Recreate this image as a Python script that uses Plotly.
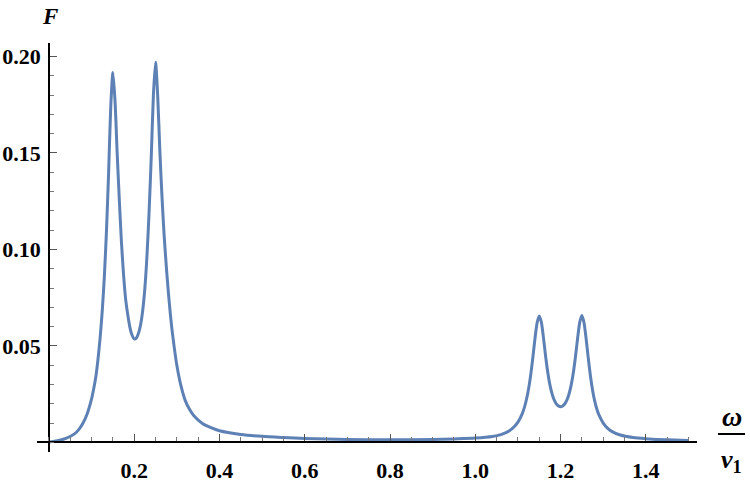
import plotly.graph_objects as go

omega = [0.0, 0.02, 0.04, 0.06, 0.07, 0.08, 0.09, 0.10, 0.105, 0.11, 0.115, 0.12, 0.125, 0.13,
         0.135, 0.14, 0.145, 0.15, 0.155, 0.16, 0.165, 0.17, 0.175, 0.18, 0.185, 0.19, 0.195,
         0.20, 0.205, 0.21, 0.215, 0.22, 0.225, 0.23, 0.235, 0.24, 0.245, 0.25, 0.255, 0.26,
         0.265, 0.27, 0.275, 0.28, 0.285, 0.29, 0.30, 0.31, 0.32, 0.33, 0.34, 0.36, 0.38, 0.40,
         0.45, 0.50, 0.55, 0.60, 0.70, 0.80, 0.90, 0.95, 1.00, 1.04, 1.06, 1.08, 1.09, 1.10,
         1.11, 1.115, 1.12, 1.125, 1.13, 1.135, 1.14, 1.145, 1.15, 1.155, 1.16, 1.165, 1.17,
         1.175, 1.18, 1.185, 1.19, 1.195, 1.20, 1.205, 1.21, 1.215, 1.22, 1.225, 1.23, 1.235,
         1.24, 1.245, 1.25, 1.255, 1.26, 1.265, 1.27, 1.275, 1.28, 1.285, 1.29, 1.30, 1.31,
         1.32, 1.34, 1.37, 1.40, 1.45, 1.50]

F = [0.0002, 0.0009, 0.0021, 0.0044, 0.0066, 0.0100, 0.0150, 0.0225, 0.0278, 0.0340, 0.0430,
     0.0540, 0.0680, 0.0860, 0.1100, 0.1400, 0.1740, 0.1917, 0.1770, 0.1500, 0.1260, 0.1040,
     0.0870, 0.0740, 0.0660, 0.0595, 0.0555, 0.0536, 0.0540, 0.0565, 0.0610, 0.0685, 0.0800,
     0.0970, 0.1200, 0.1480, 0.1800, 0.1970, 0.1800, 0.1520, 0.1280, 0.1080, 0.0920, 0.0780,
     0.0660, 0.0560, 0.0400, 0.0290, 0.0215, 0.0170, 0.0138, 0.0098, 0.0076, 0.0060, 0.0041,
     0.0031, 0.0025, 0.0020, 0.0015, 0.0013, 0.0015, 0.0018, 0.0022, 0.0030, 0.0040, 0.0060,
     0.0078, 0.0105, 0.0148, 0.0180, 0.0222, 0.0278, 0.0350, 0.0440, 0.0538, 0.0620, 0.0655,
     0.0622, 0.0540, 0.0445, 0.0362, 0.0298, 0.0252, 0.0220, 0.0200, 0.0189, 0.0185, 0.0189,
     0.0200, 0.0220, 0.0252, 0.0298, 0.0362, 0.0445, 0.0540, 0.0622, 0.0658, 0.0620, 0.0536,
     0.0437, 0.0345, 0.0272, 0.0215, 0.0173, 0.0142, 0.0100, 0.0074, 0.0057, 0.0038, 0.0025,
     0.0019, 0.0013, 0.0010]

x_ticks = [0.2, 0.4, 0.6, 0.8, 1.0, 1.2, 1.4]
x_tick_text = ["0.2", "0.4", "0.6", "0.8", "1.0", "1.2", "1.4"]
y_ticks = [0.05, 0.10, 0.15, 0.20]
y_tick_text = ["0.05", "0.10", "0.15", "0.20"]

X_RANGE = [-0.028, 1.52]
Y_RANGE = [-0.005, 0.207]

SERIF = "Liberation Serif, Times New Roman, serif"
tickfont = dict(family=SERIF, size=22, color="black", weight="bold")

fig = go.Figure()
fig.add_trace(go.Scatter(
    x=omega, y=F, mode="lines",
    line=dict(color="#5E81B5", width=3, shape="spline", smoothing=0.7),
    showlegend=False, hoverinfo="skip",
))

fig.update_layout(
    width=750, height=484,
    margin=dict(l=37, r=53, t=43, b=32),
    paper_bgcolor="white", plot_bgcolor="white",
    xaxis=dict(
        range=X_RANGE, anchor="free", automargin=False,
        position=(0 - Y_RANGE[0]) / (Y_RANGE[1] - Y_RANGE[0]),
        showline=True, linecolor="black", linewidth=1.8,
        showgrid=False, zeroline=False,
        tickvals=x_ticks, ticktext=x_tick_text,
        ticks="inside", ticklen=7, tickwidth=1.2, tickcolor="#555555",
        minor=dict(dtick=0.05, tick0=0, ticks="inside", ticklen=4, tickwidth=1.2,
                   tickcolor="#777777", showgrid=False),
        tickfont=tickfont, ticklabelstandoff=8,
    ),
    yaxis=dict(
        range=Y_RANGE, anchor="free", automargin=False,
        position=(0 - X_RANGE[0]) / (X_RANGE[1] - X_RANGE[0]),
        showline=True, linecolor="black", linewidth=1.8,
        showgrid=False, zeroline=False,
        tickvals=y_ticks, ticktext=y_tick_text,
        ticks="inside", ticklen=7, tickwidth=1.2, tickcolor="#555555",
        minor=dict(dtick=0.01, tick0=0, ticks="inside", ticklen=4, tickwidth=1.2,
                   tickcolor="#777777", showgrid=False),
        tickfont=tickfont, ticklabelstandoff=3,
    ),
)

# axis labels
fig.add_annotation(
    text="<b><i>F</i></b>", x=0.0197, y=1.0636, xref="paper", yref="paper",
    showarrow=False, xanchor="center", yanchor="middle",
    font=dict(family=SERIF, size=23, color="black"),
)
fig.add_annotation(
    text="<b><i>ω</i></b>", x=1.053, y=0.088, xref="paper", yref="paper",
    showarrow=False, xanchor="center", yanchor="middle",
    font=dict(family=SERIF, size=28, color="black"),
)
fig.add_shape(type="line", xref="paper", yref="paper",
              x0=1.0318, x1=1.0727, y0=0.044, y1=0.044,
              line=dict(color="black", width=2))
fig.add_annotation(
    text="<b><i>ν</i><sub>1</sub></b>", x=1.053, y=-0.022, xref="paper", yref="paper",
    showarrow=False, xanchor="center", yanchor="middle",
    font=dict(family=SERIF, size=26, color="black"),
)

fig.write_html("out.html")
